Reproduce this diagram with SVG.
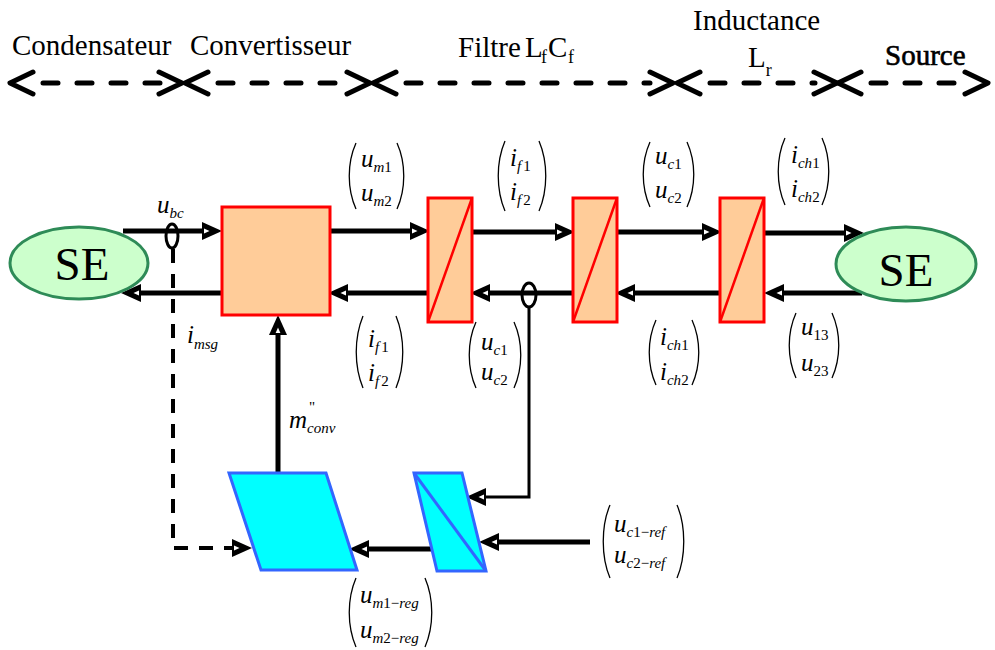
<svg xmlns="http://www.w3.org/2000/svg" width="995" height="650" viewBox="0 0 995 650" font-family="'Liberation Serif', Tinos, 'DejaVu Serif', 'Times New Roman', serif">
<defs>
<style>
text{font-family:'Liberation Serif',Tinos,'Times New Roman','DejaVu Serif',serif}
.hd{font-size:29px;fill:#000}
.v{font-style:italic;font-size:25px;fill:#000}
.s{font-size:15px}
.up{font-style:normal}
.se{fill:#ccffcc;stroke:#2e8b57;stroke-width:3}
.set{font-size:47px;fill:#000}
.blk{fill:#ffcc99;stroke:#ff0000;stroke-width:3}
.dg{stroke:#ff0000;stroke-width:2.5;fill:none}
.reg{fill:#00ffff;stroke:#3366ff;stroke-width:3;stroke-linejoin:miter}
.ln{fill:none;stroke:#000;stroke-width:5}
.thin{fill:none;stroke:#000;stroke-width:3}
.dash{fill:none;stroke:#000;stroke-width:4;stroke-dasharray:14 11}
.tdash{fill:none;stroke:#000;stroke-width:5;stroke-linecap:round;stroke-dasharray:15 19}
.chev{fill:none;stroke:#000;stroke-width:5;stroke-linecap:round;stroke-linejoin:round}
.par{fill:none;stroke:#000;stroke-width:1.3}
</style>
<marker id="ah" markerUnits="userSpaceOnUse" markerWidth="22" markerHeight="20" viewBox="0 -10 22 20" refX="8" refY="0" orient="auto">
<path d="M0,-9 L20,0 L0,9 Z" fill="#000"/>
<path d="M2,-2.4 L7.5,0 L2,2.4 Z" fill="#fff"/>
</marker>
</defs>
<rect width="995" height="650" fill="#fff"/>

<g id="sections">
<path class="tdash" d="M43,83 H160"/>
<path class="tdash" d="M218,83 H345"/>
<path class="tdash" d="M406,83 H650"/>
<path class="tdash" d="M710,83 H815"/>
<path class="tdash" d="M871,83 H965"/>
<path class="chev" d="M33,72 L10,83 L33,94"/>
<path class="chev" d="M159,72 L182,83 L159,94"/>
<path class="chev" d="M208,72 L185,83 L208,94"/>
<path class="chev" d="M347,72 L370,83 L347,94"/>
<path class="chev" d="M396,72 L373,83 L396,94"/>
<path class="chev" d="M650,72 L673,83 L650,94"/>
<path class="chev" d="M700,72 L677,83 L700,94"/>
<path class="chev" d="M814,72 L837,83 L814,94"/>
<path class="chev" d="M861,72 L838,83 L861,94"/>
<path class="chev" d="M965,72 L988,83 L965,94"/>
<text class="hd" x="12" y="55">Condensateur</text>
<text class="hd" x="190" y="55">Convertisseur</text>
<text class="hd" x="458" y="57">Filtre<tspan x="525">L</tspan><tspan x="541" dy="6" font-size="18">f</tspan><tspan x="548" dy="-6">C</tspan><tspan x="568" dy="6" font-size="18">f</tspan></text>
<text class="hd" x="693" y="30">Inductance</text>
<text class="hd" x="748" y="67">L<tspan font-size="18" dy="9">r</tspan></text>
<text class="hd" x="885" y="65" stroke="#000" stroke-width="0.6">Source</text>
</g>

<g id="connectors">
<path class="ln" d="M123,231 H210" marker-end="url(#ah)"/>
<path class="ln" d="M222,293 H133" marker-end="url(#ah)"/>
<path class="ln" d="M330,231 H418" marker-end="url(#ah)"/>
<path class="ln" d="M428,293 H340" marker-end="url(#ah)"/>
<path class="ln" d="M472,232 H563" marker-end="url(#ah)"/>
<path class="ln" d="M573,293 H482" marker-end="url(#ah)"/>
<path class="ln" d="M617,232 H710" marker-end="url(#ah)"/>
<path class="ln" d="M720,293 H627" marker-end="url(#ah)"/>
<path class="ln" d="M764,233 H852" marker-end="url(#ah)"/>
<path class="ln" d="M862,293 H776" marker-end="url(#ah)"/>
<ellipse class="thin" cx="172" cy="236" rx="6" ry="12"/>
<ellipse class="thin" cx="529" cy="295" rx="7" ry="12"/>
<path class="dash" d="M173,249 V548 H240" marker-end="url(#ah)"/>
<path class="ln" d="M278,473 V327" marker-end="url(#ah)"/>
<path class="thin" d="M529,307 V497 H478" marker-end="url(#ah)"/>
<path class="ln" d="M432,549 H361" marker-end="url(#ah)"/>
<path class="ln" d="M590,542 H491" marker-end="url(#ah)"/>
</g>

<g id="se-left">
<ellipse class="se" cx="79" cy="263" rx="69" ry="36"/>
<text class="set" x="82" y="280" text-anchor="middle">SE</text>
</g>
<g id="convertisseur">
<rect class="blk" x="222" y="207" width="108" height="108"/>
</g>
<g id="filtre1">
<rect class="blk" x="428" y="198" width="44" height="124"/>
<path class="dg" d="M428,322 L472,198"/>
</g>
<g id="filtre2">
<rect class="blk" x="573" y="198" width="44" height="124"/>
<path class="dg" d="M573,322 L617,198"/>
</g>
<g id="filtre3">
<rect class="blk" x="720" y="198" width="44" height="124"/>
<path class="dg" d="M720,322 L764,198"/>
</g>
<g id="se-right">
<ellipse class="se" cx="906" cy="264" rx="70" ry="37"/>
<text class="set" x="906" y="286" text-anchor="middle">SE</text>
</g>
<g id="commande">
<path class="reg" d="M229,473 L326,473 L357,570 L261,570 Z"/>
</g>
<g id="regulateur">
<path class="reg" d="M414,473 L462,473 L486,571 L437,571 Z"/>
<path class="reg" d="M414,473 L486,571"/>
</g>

<g id="labels">
<text class="v" x="157" y="213">u<tspan class="s" dy="5">bc</tspan></text>
<text class="v" x="187" y="343">i<tspan class="s" dy="6">msg</tspan></text>
<text class="v" x="289" y="428">m<tspan class="s up" x="309" dy="-16">"</tspan><tspan class="s" x="307" dy="21">conv</tspan></text>

<path class="par" d="M356,143 C347,163 347,189 356,209"/>
<path class="par" d="M397,143 C406,163 406,189 397,209"/>
<text class="v" x="361" y="167">u<tspan class="s" dy="5">m</tspan><tspan class="s up">1</tspan></text>
<text class="v" x="361" y="201">u<tspan class="s" dy="5">m</tspan><tspan class="s up">2</tspan></text>

<path class="par" d="M505,141 C496,162 496,190 505,211"/>
<path class="par" d="M539,141 C548,162 548,190 539,211"/>
<text class="v" x="510" y="166">i<tspan class="s" dy="5">f</tspan><tspan class="s up" dx="2">1</tspan></text>
<text class="v" x="510" y="200">i<tspan class="s" dy="5">f</tspan><tspan class="s up" dx="2">2</tspan></text>

<path class="par" d="M650,142 C641,162 641,187 650,207"/>
<path class="par" d="M687,142 C696,162 696,187 687,207"/>
<text class="v" x="655" y="164">u<tspan class="s" dy="5">c</tspan><tspan class="s up">1</tspan></text>
<text class="v" x="655" y="198">u<tspan class="s" dy="5">c</tspan><tspan class="s up">2</tspan></text>

<path class="par" d="M785,138 C776,158 776,185 785,205"/>
<path class="par" d="M822,138 C831,158 831,185 822,205"/>
<text class="v" x="791" y="163">i<tspan class="s" dy="5">ch</tspan><tspan class="s up">1</tspan></text>
<text class="v" x="791" y="197">i<tspan class="s" dy="5">ch</tspan><tspan class="s up">2</tspan></text>

<path class="par" d="M363,316 C354,338 354,366 363,388"/>
<path class="par" d="M396,316 C405,338 405,366 396,388"/>
<text class="v" x="368" y="347">i<tspan class="s" dy="5">f</tspan><tspan class="s up" dx="2">1</tspan></text>
<text class="v" x="368" y="381">i<tspan class="s" dy="5">f</tspan><tspan class="s up" dx="2">2</tspan></text>

<path class="par" d="M476,322 C467,342 467,368 476,388"/>
<path class="par" d="M514,322 C523,342 523,368 514,388"/>
<text class="v" x="481" y="350">u<tspan class="s" dy="5">c</tspan><tspan class="s up">1</tspan></text>
<text class="v" x="481" y="380">u<tspan class="s" dy="5">c</tspan><tspan class="s up">2</tspan></text>

<path class="par" d="M656,320 C647,340 647,365 656,385"/>
<path class="par" d="M692,320 C701,340 701,365 692,385"/>
<text class="v" x="660" y="345">i<tspan class="s" dy="5">ch</tspan><tspan class="s up">1</tspan></text>
<text class="v" x="660" y="380">i<tspan class="s" dy="5">ch</tspan><tspan class="s up">2</tspan></text>

<path class="par" d="M796,313 C787,333 787,358 796,378"/>
<path class="par" d="M832,313 C841,333 841,358 832,378"/>
<text class="v" x="801" y="335">u<tspan class="s up" dy="5">13</tspan></text>
<text class="v" x="801" y="371">u<tspan class="s up" dy="5">23</tspan></text>

<path class="par" d="M356,578 C347,599 347,626 356,647"/>
<path class="par" d="M425,578 C434,599 434,626 425,647"/>
<text class="v" x="360" y="603">u<tspan class="s" dy="5">m</tspan><tspan class="s up">1−</tspan><tspan class="s">reg</tspan></text>
<text class="v" x="360" y="638">u<tspan class="s" dy="5">m</tspan><tspan class="s up">2−</tspan><tspan class="s">reg</tspan></text>

<path class="par" d="M610,505 C601,526 601,557 610,578"/>
<path class="par" d="M677,505 C686,526 686,557 677,578"/>
<text class="v" x="614" y="532">u<tspan class="s" dy="5">c</tspan><tspan class="s up">1−</tspan><tspan class="s">ref</tspan></text>
<text class="v" x="614" y="563">u<tspan class="s" dy="5">c</tspan><tspan class="s up">2−</tspan><tspan class="s">ref</tspan></text>
</g>
</svg>
